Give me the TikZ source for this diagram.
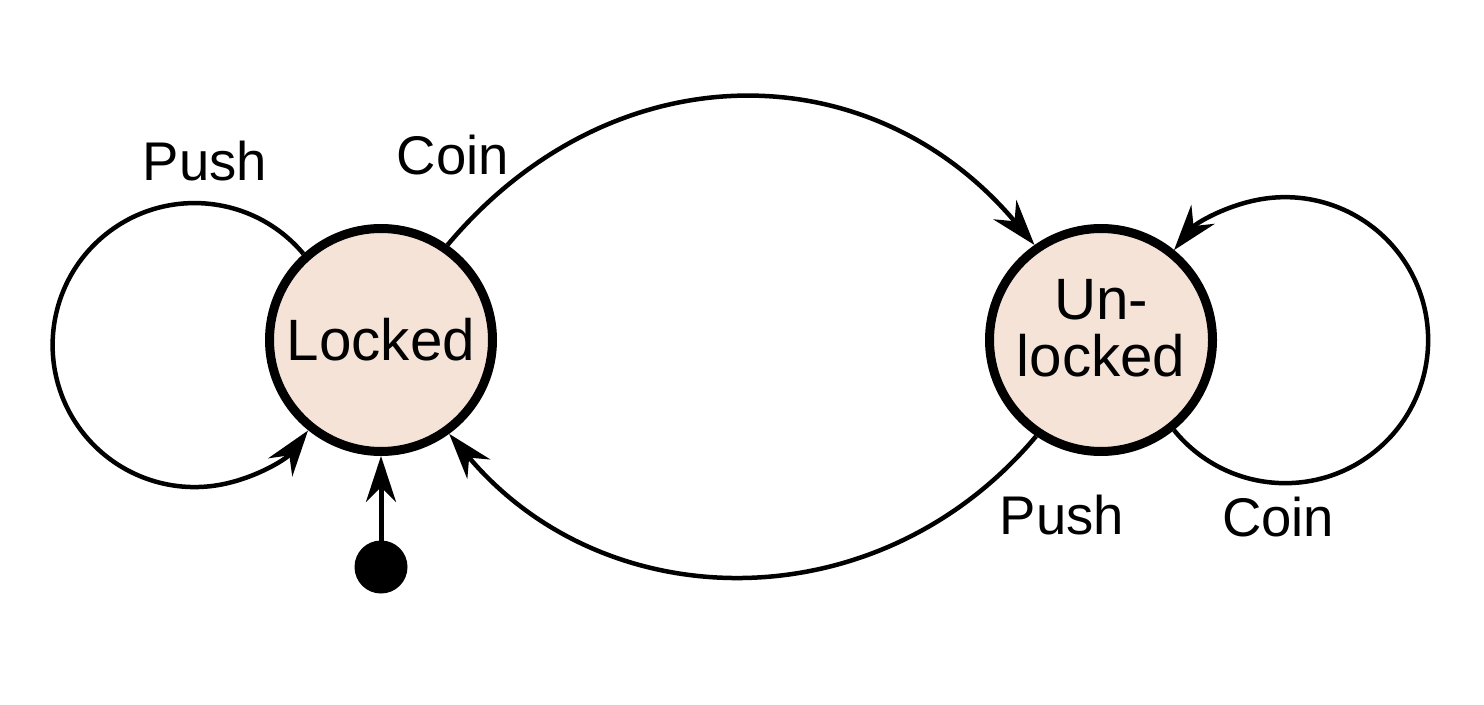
\documentclass[tikz,border=0pt]{standalone}
\usepackage{fontspec}
\setmainfont{Liberation Sans}
\usetikzlibrary{arrows.meta}
\definecolor{statefill}{RGB}{245,227,215}
\begin{document}
\begin{tikzpicture}[
		state/.style={circle, draw, line width=0.09cm, fill=statefill, minimum size=2.23cm, inner sep=0pt, align=center, font=\fontsize{16.6}{16.2}\selectfont},
		lbl/.style={font=\fontsize{15.5}{18}\selectfont},
		edge/.style={line width=0.045cm, -{Stealth[length=4.6mm, width=3mm, inset=1.5mm]}}
	]
	\useasboundingbox (0,0) rectangle (14.84,7.04);
	\node[state] (locked) at (3.81, 3.64) {Locked};
	\node[state] (unlocked) at (11.01, 3.64) {};
	\node[align=center, font=\fontsize{16.6}{16.2}\selectfont] (unlockedtext) at ([yshift=0.12cm]unlocked.center) {Un-\\locked};
	\fill (3.81, 1.37) circle (0.265) coordinate (start);
	\draw[edge, line width=0.05cm] (start) -- (locked);
	% transitions
	\draw[edge] (locked.132) arc[start angle=40, end angle=323, radius=1.42];
	\draw[edge] (unlocked.-51) arc[start angle=-141, end angle=141, radius=1.43];
	\draw[edge] (locked.55) .. controls +(50:2.55) and +(130:2.55) .. (unlocked.125);
	\draw[edge] (unlocked.236) .. controls +(230:2.44) and +(-50:2.44) .. (locked.-54);
	\node[lbl] (pushL) at (2.05, 5.43) {Push};
	\node[lbl] (coinT) at (4.53, 5.49) {Coin};
	\node[lbl] (pushB) at (10.62, 1.89) {Push};
	\node[lbl] (coinR) at (12.78, 1.87) {Coin};
\end{tikzpicture}
\end{document}
